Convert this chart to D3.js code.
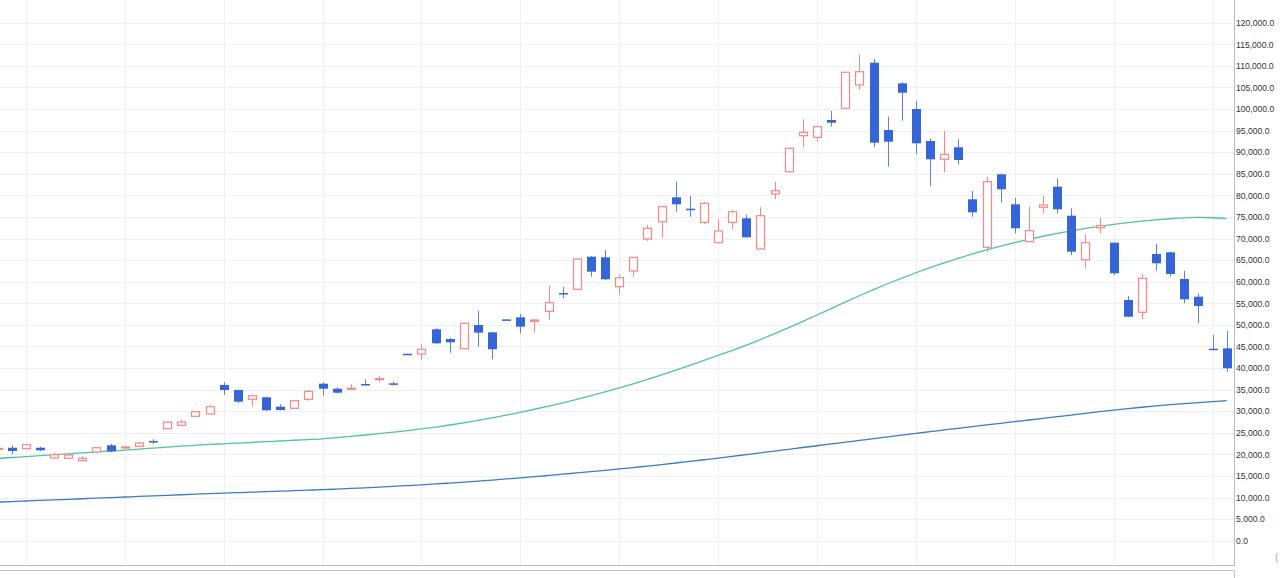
<!DOCTYPE html>
<html>
	<head>
		<title>Weekly candles</title>
		<script src="https://cdn.jsdelivr.net/npm/d3@7"></script>
		<style>
			body {
				margin: 0;
				background: #fff;
			}
			.grid line {
				stroke: #eef0f4;
				stroke-width: 1;
			}
			.axis text {
				font-family: "Liberation Sans", Arial, sans-serif;
				font-size: 8.6px;
				fill: #333;
			}
		</style>
	</head>
	<body>
		<div class="chart"></div>
		<script>
			// weekly candles, index -1 is the one cut by the left edge
			var opens = [21130, 21540, 21310, 21540, 19160, 19090, 18530, 20550, 22100, 21480,
				21870, 23100, 25950, 26730, 28820, 29350, 36070, 34910, 32760, 33220,
				31040, 30670, 32760, 36370, 35210, 35140, 36300, 37370, 36460, 43300,
				43250, 48970, 46730, 44480, 49970, 48280, 51270, 51750, 50830, 53140,
				57380, 58240, 65790, 65650, 58840, 62480, 69890, 73900, 79550, 76910,
				73760, 69040, 73760, 74690, 67580, 80320, 85480, 93820, 93450, 97460,
				100170, 105570, 110730, 95140, 105960, 100010, 92600, 88360, 91140, 79090,
				67970, 84880, 77930, 69270, 77240, 82010, 75290, 65100, 72510, 69040,
				55760, 52910, 66420, 66810, 60630, 56530, 44480, 44570];
			var highs = [21590, 22100, 22400, 21780, 20390, 19970, 19550, 21640, 22400, 21820,
				22750, 23490, 27610, 28120, 30050, 31370, 36700, 35030, 33820, 33340,
				31600, 32550, 34910, 36700, 35540, 36230, 37390, 38150, 36830, 43340,
				45500, 49210, 47030, 50480, 53280, 48390, 51270, 52520, 51290, 59240,
				58840, 65380, 65910, 67340, 61710, 65720, 73140, 77490, 83170, 79850,
				78530, 74460, 76610, 75610, 77240, 83170, 91020, 97620, 96020, 99540,
				108630, 112680, 111590, 98220, 106190, 101930, 93220, 94910, 92990, 81010,
				84320, 85000, 79460, 77370, 79850, 83950, 77000, 70890, 74830, 69150,
				56690, 61780, 68730, 66930, 62550, 57310, 47650, 48650];
			var lows = [20900, 20020, 21240, 20780, 19090, 19000, 18460, 20250, 20480, 21410,
				21820, 22400, 25880, 26570, 28730, 29280, 33750, 31970, 31040, 30090,
				30160, 30560, 32430, 33590, 34050, 34910, 36120, 36830, 35910, 43160,
				41860, 45570, 43550, 44360, 44940, 42020, 51130, 48050, 48280, 51130,
				56150, 58120, 61160, 60390, 56920, 61160, 69430, 70190, 76220, 75060,
				73300, 68920, 72140, 70170, 67460, 79090, 85250, 91140, 92430, 95910,
				100060, 104410, 91140, 86640, 97300, 89580, 82170, 85340, 87200, 75060,
				66950, 78300, 71210, 69150, 75850, 75850, 66190, 63100, 71210, 61550,
				51780, 51360, 62550, 61160, 55000, 50360, 44320, 39150];
			var closes = [21360, 20780, 22240, 20940, 19920, 19850, 19090, 21540, 20710, 21710,
				22630, 22930, 27500, 27500, 29880, 31040, 34910, 32200, 33590, 30210,
				30280, 32430, 34610, 35210, 34290, 35310, 36160, 37530, 36140, 43180,
				44340, 45730, 45960, 50360, 48190, 44340, 51130, 49580, 51130, 55140,
				57220, 65260, 62320, 60560, 60930, 65650, 72370, 77370, 77930, 76770,
				78160, 71750, 76220, 70290, 75290, 81080, 90900, 94610, 95910, 96830,
				108510, 108650, 92200, 92430, 103780, 92060, 88360, 89510, 88190, 76080,
				83170, 81410, 72370, 71820, 77770, 76770, 66950, 69040, 72970, 61950,
				51890, 60790, 64260, 61780, 55920, 54370, 44340, 39940];

			// moving averages, one per candle
			var maShort = [19050, 19270, 19480, 19700, 19920, 20130, 20350, 20560, 20780, 21000,
				21220, 21450, 21680, 21900, 22100, 22300, 22450, 22600, 22780, 22950,
				23100, 23270, 23420, 23600, 23880, 24180, 24490, 24810, 25150, 25510,
				25900, 26330, 26800, 27310, 27860, 28450, 29080, 29750, 30450, 31180,
				31950, 32750, 33590, 34470, 35390, 36350, 37350, 38400, 39500, 40620,
				41760, 42920, 44100, 45300, 46600, 47950, 49350, 50800, 52280, 53780,
				55280, 56750, 58170, 59530, 60830, 62070, 63250, 64370, 65430, 66430,
				67370, 68250, 69070, 69830, 70530, 71180, 71780, 72330, 72830, 73280,
				73680, 74030, 74330, 74580, 74780, 74900, 74820, 74600];
			var maLong = [8940, 9070, 9200, 9330, 9460, 9590, 9720, 9850, 9980, 10120,
				10250, 10380, 10510, 10640, 10770, 10900, 11020, 11130, 11240, 11360,
				11470, 11590, 11710, 11830, 11960, 12100, 12250, 12410, 12580, 12760,
				12950, 13150, 13360, 13580, 13810, 14050, 14300, 14560, 14830, 15110,
				15400, 15690, 15990, 16300, 16620, 16950, 17290, 17640, 18000, 18370,
				18750, 19140, 19540, 19950, 20360, 20770, 21180, 21590, 22000, 22410,
				22820, 23230, 23640, 24050, 24460, 24860, 25260, 25650, 26040, 26430,
				26820, 27200, 27580, 27960, 28340, 28720, 29090, 29500, 29880, 30250,
				30600, 30920, 31220, 31500, 31760, 32000, 32220, 32430];

			var yTicks = d3.range(0, 120001, 5000);

			var width = 1280, height = 578;
			var plotRight = 1234, plotBottom = 565;

			var candles = opens.map(function(o, k) {
				return {i: k - 1, o: o, h: highs[k], l: lows[k], c: closes[k]};
			});

			var x = d3.scaleLinear()
				.domain([-1, 86])
				.range([-2.4, 1226.7]);

			var y = d3.scaleLinear()
				.domain([0, 120000])
				.range([540.7, 22.7]);

			var svg = d3.select(".chart")
				.append("svg")
				.attr("width", width)
				.attr("height", height);

			svg.append("clipPath")
				.attr("id", "plot")
				.append("rect")
				.attr("x", 0).attr("y", 0)
				.attr("width", plotRight).attr("height", plotBottom);

			// grid
			var grid = svg.append("g").attr("class", "grid");
			grid.selectAll(".h")
				.data(yTicks)
				.enter().append("line")
				.attr("class", "h")
				.attr("x1", 0).attr("x2", plotRight)
				.attr("y1", function(d) { return Math.round(y(d)) + 0.5; })
				.attr("y2", function(d) { return Math.round(y(d)) + 0.5; });
			grid.selectAll(".v")
				.data(candles.filter(function(d) { return d.i >= 1 && (d.i - 1) % 7 == 0; }))
				.enter().append("line")
				.attr("class", "v")
				.attr("y1", 0).attr("y2", plotBottom)
				.attr("x1", function(d) { return Math.round(x(d.i)) + 0.5; })
				.attr("x2", function(d) { return Math.round(x(d.i)) + 0.5; });

			var plot = svg.append("g").attr("clip-path", "url(#plot)");

			// moving averages
			function maLine(vals) {
				return d3.line()
					.x(function(d, k) { return x(k - 1); })
					.y(function(d) { return y(d); })
					.curve(d3.curveMonotoneX)(vals);
			}
			plot.append("path")
				.attr("d", maLine(maLong))
				.attr("fill", "none")
				.attr("stroke", "#3b7cc6")
				.attr("stroke-width", 1.3);
			plot.append("path")
				.attr("d", maLine(maShort))
				.attr("fill", "none")
				.attr("stroke", "#4fc59d")
				.attr("stroke-width", 1.3);

			// candles
			var up = "#fb8585", down = "#3565d6";
			var g = plot.selectAll(".candle")
				.data(candles)
				.enter().append("g")
				.attr("class", "candle");

			g.each(function(d) {
				var el = d3.select(this);
				var cx = Math.round(x(d.i)) + 0.5;
				var top = y(Math.max(d.o, d.c)), bot = y(Math.min(d.o, d.c));
				if (bot - top < 1) { bot = top + 1; }
				if (d.c >= d.o) {
					el.append("line")
						.attr("x1", cx).attr("x2", cx)
						.attr("y1", y(d.h)).attr("y2", top)
						.attr("stroke", up);
					el.append("line")
						.attr("x1", cx).attr("x2", cx)
						.attr("y1", bot).attr("y2", y(d.l))
						.attr("stroke", up);
					el.append("rect")
						.attr("x", cx - 4).attr("y", top)
						.attr("width", 8).attr("height", bot - top)
						.attr("fill", "#fff")
						.attr("stroke", up)
						.attr("stroke-width", 1.2);
				} else {
					el.append("line")
						.attr("x1", cx).attr("x2", cx)
						.attr("y1", y(d.h)).attr("y2", y(d.l))
						.attr("stroke", "#5a82e0");
					el.append("rect")
						.attr("x", cx - 4.5).attr("y", top)
						.attr("width", 9).attr("height", Math.max(bot - top, 1.5))
						.attr("fill", down);
				}
			});

			// frame
			svg.append("line")
				.attr("x1", plotRight + 0.5).attr("x2", plotRight + 0.5)
				.attr("y1", 0).attr("y2", plotBottom)
				.attr("stroke", "#bcbcbc");
			svg.append("line")
				.attr("x1", 0).attr("x2", plotRight + 1)
				.attr("y1", plotBottom + 0.5).attr("y2", plotBottom + 0.5)
				.attr("stroke", "#bcbcbc");
			svg.append("path")
				.attr("d", "M0," + (plotBottom + 5.5) + "H" + (plotRight + 0.5) + "V" + height)
				.attr("fill", "none")
				.attr("stroke", "#c4c4c4");

			// price axis
			var axis = svg.append("g")
				.attr("class", "axis")
				.attr("transform", "translate(" + plotRight + ",0)")
				.call(d3.axisRight(y)
					.tickValues(yTicks)
					.tickFormat(d3.format(",.1f"))
					.tickSize(0)
					.tickPadding(2));
			axis.select(".domain").remove();

			svg.append("text")
				.attr("x", 1275).attr("y", 561)
				.attr("font-family", "Liberation Sans, Arial, sans-serif")
				.attr("font-size", 10)
				.attr("fill", "#aaa")
				.text("(");
		</script>
	</body>
</html>
